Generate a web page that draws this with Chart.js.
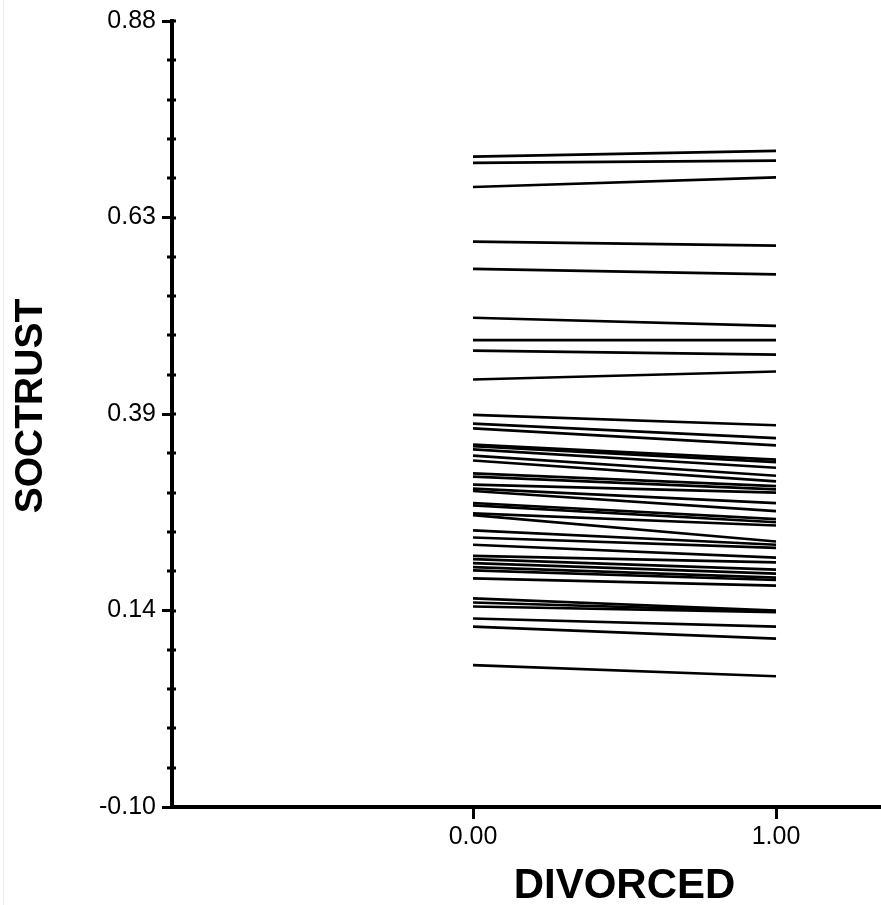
<!DOCTYPE html>
<html><head><meta charset="utf-8">
<script src="https://cdn.jsdelivr.net/npm/chart.js@4"></script>
<style>
html,body{margin:0;padding:0;background:#fff;overflow:hidden}
#wrap{position:relative;width:881px;height:905px}
#edge{position:absolute;left:3px;top:0;width:1px;height:905px;background:#ececec}
canvas{position:absolute;left:0;top:0}
</style></head>
<body><div id="wrap"><div id="edge"></div><canvas id="c" width="881" height="905"></canvas></div>
<script>
// ---- data ----
const xValues = [0, 1];
const xTickLabels = ["0.00", "1.00"];
const yMajorTicks = [-0.10, 0.145, 0.39, 0.635, 0.88];
const yTickLabels = ["-0.10", "0.14", "0.39", "0.63", "0.88"];
const minorPerInterval = 4;
const xTitle = "DIVORCED";
const yTitle = "SOCTRUST";
// SOCTRUST at DIVORCED = 0 and DIVORCED = 1, one entry per line
const soctrustAt0 = [0.711,0.703,0.673,0.605,0.571,0.510,0.482,0.469,0.433,0.389,
  0.378,0.372,0.352,0.350,0.346,0.338,0.332,0.316,0.312,0.302,
  0.297,0.294,0.279,0.276,0.266,0.264,0.245,0.236,0.227,0.213,
  0.209,0.204,0.199,0.195,0.185,0.160,0.155,0.150,0.135,0.125,0.077];
const soctrustAt1 = [0.718,0.706,0.685,0.600,0.564,0.500,0.482,0.464,0.443,0.376,
  0.360,0.351,0.333,0.330,0.323,0.313,0.306,0.300,0.296,0.292,
  0.279,0.269,0.259,0.255,0.251,0.231,0.227,0.223,0.211,0.205,
  0.196,0.191,0.186,0.183,0.176,0.145,0.144,0.143,0.125,0.110,0.063];

// ---- chart ----
const FONT = "'Liberation Sans', Arial, Helvetica, sans-serif";
const datasets = soctrustAt0.map((v0, i) => ({
  data: [{x: xValues[0], y: v0}, {x: xValues[1], y: soctrustAt1[i]}],
  borderColor: '#000', borderWidth: 2.7, pointRadius: 0, fill: false, tension: 0
}));

const minorTicks = [];
for (let i = 0; i < yMajorTicks.length - 1; i++) {
  const a = yMajorTicks[i], b = yMajorTicks[i + 1];
  for (let k = 1; k <= minorPerInterval; k++) minorTicks.push(a + (b - a) * k / (minorPerInterval + 1));
}

const extras = {
  id: 'extras',
  afterDraw(chart) {
    const ctx = chart.ctx, ys = chart.scales.y, xs = chart.scales.x;
    ctx.save();
    ctx.fillStyle = '#000';
    minorTicks.forEach(v => {
      const p = ys.getPixelForValue(v);
      ctx.fillRect(ys.right - 5, Math.round(p) - 1.5, 9, 3);
    });
    yMajorTicks.forEach(v => {
      const p = ys.getPixelForValue(v);
      ctx.fillRect(ys.right, Math.round(p) - 1.5, 4, 3);
    });
    ctx.font = "bold 42px " + FONT;
    ctx.textAlign = 'center';
    ctx.textBaseline = 'middle';
    ctx.fillText(xTitle, xs.getPixelForValue((xValues[0] + xValues[1]) / 2), 886);
    ctx.translate(31, ys.getPixelForValue((yMajorTicks[0] + yMajorTicks[yMajorTicks.length - 1]) / 2) - 8);
    ctx.rotate(-Math.PI / 2);
    ctx.font = "bold 39px " + FONT;
    ctx.fillText(yTitle, 0, 0);
    ctx.restore();
  }
};

new Chart(document.getElementById('c'), {
  type: 'line',
  data: { datasets },
  plugins: [extras],
  options: {
    responsive: false, animation: false, devicePixelRatio: 1,
    layout: { padding: { top: 20, right: 0, bottom: 0, left: 0 } },
    plugins: { legend: { display: false }, tooltip: { enabled: false }, title: { display: false } },
    scales: {
      x: {
        type: 'linear', min: -0.9934, max: 1.3465,
        afterBuildTicks: s => { s.ticks = xValues.map(v => ({ value: v })); },
        afterFit: s => { s.height = 98; },
        ticks: { color: '#000', font: { family: FONT, size: 25 }, padding: 3, maxRotation: 0,
          callback: (v) => { const i = xValues.indexOf(v); return i >= 0 ? xTickLabels[i] : ''; } },
        grid: { drawOnChartArea: false, color: '#000', tickLength: 12, tickWidth: 3 },
        border: { display: true, color: '#000', width: 4 }
      },
      y: {
        type: 'linear', min: yMajorTicks[0], max: yMajorTicks[yMajorTicks.length - 1],
        afterBuildTicks: s => { s.ticks = yMajorTicks.map(v => ({ value: v })); },
        afterFit: s => { s.width = 172; },
        ticks: { color: '#000', font: { family: FONT, size: 25 }, padding: 6,
          callback: (v) => { const i = yMajorTicks.findIndex(t => Math.abs(t - v) < 1e-9); return i >= 0 ? yTickLabels[i] : ''; } },
        grid: { drawOnChartArea: false, color: '#000', tickLength: 10, tickWidth: 3 },
        border: { display: true, color: '#000', width: 4 }
      }
    }
  }
});
</script>
</body></html>
